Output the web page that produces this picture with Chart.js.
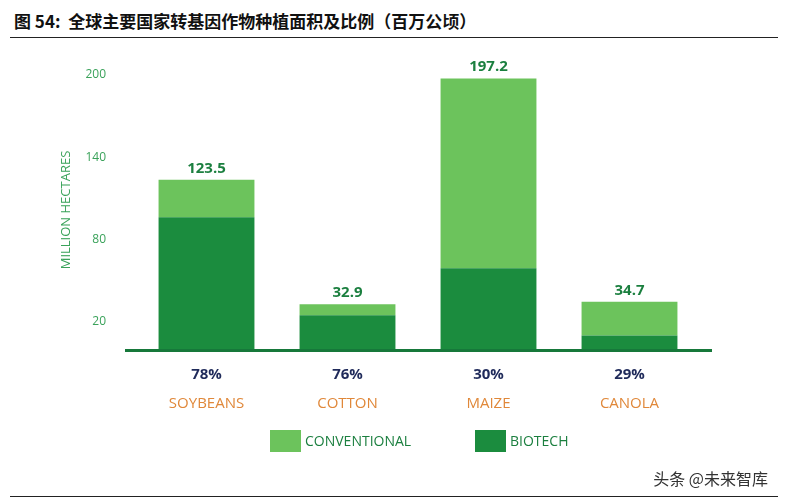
<!DOCTYPE html>
<html>
<head>
<meta charset="utf-8">
<script src="https://cdn.jsdelivr.net/npm/chart.js@4"></script>
<style>
  body { margin: 0; background: #fff; }
  #wrap { position: relative; width: 788px; height: 504px; overflow: hidden; }
  #title { position: absolute; left: 14px; top: 8px; font: bold 17px "Noto Sans CJK SC", sans-serif; color: #111; }
  #topline { position: absolute; left: 10px; right: 10px; top: 37px; border-top: 1.5px solid #222; }
  #botline { position: absolute; left: 10px; right: 10px; top: 496px; border-top: 1.5px solid #222; }
  #mark { position: absolute; right: 20px; top: 466px; font: 16px "Noto Sans CJK SC", sans-serif; color: #333; }
  canvas { position: absolute; left: 0; top: 0; }
</style>
</head>
<body>
<div id="wrap">
  <div id="title">图 54:&nbsp; 全球主要国家转基因作物种植面积及比例（百万公顷）</div>
  <div id="topline"></div>
  <canvas id="c" width="788" height="504"></canvas>
  <div id="botline"></div>
  <div id="mark">头条 @未来智库</div>
</div>
<script>
const categories = ["SOYBEANS", "COTTON", "MAIZE", "CANOLA"];
const totals = [123.5, 32.9, 197.2, 34.7];
const biotechShare = ["78%", "76%", "30%", "29%"];
const biotech = [96.3, 25.0, 59.2, 10.1];
const conventional = [27.2, 7.9, 138.0, 24.6];
const yTicks = [20, 80, 140, 200];

const LIGHT = "#6cc35c";
const DARK = "#1b8c3e";
const FONT = "Open Sans";

const extras = {
  id: "extras",
  afterDraw(chart) {
    const ctx = chart.ctx;
    const x = chart.scales.x, y = chart.scales.y;
    const base = y.getPixelForValue(0);
    ctx.save();
    // baseline
    ctx.strokeStyle = "#16783a";
    ctx.lineWidth = 3;
    ctx.beginPath();
    ctx.moveTo(125, base + 1);
    ctx.lineTo(712, base + 1);
    ctx.stroke();
    ctx.textAlign = "center";
    categories.forEach((c, i) => {
      const cx = x.getPixelForValue(i);
      ctx.fillStyle = "#1b7f3f";
      ctx.font = "bold 15px " + FONT;
      ctx.textBaseline = "bottom";
      ctx.fillText(totals[i].toFixed(1), cx, y.getPixelForValue(totals[i]) - 4);
      ctx.textBaseline = "middle";
      ctx.fillStyle = "#1f2a5a";
      ctx.fillText(biotechShare[i], cx, 375);
      ctx.fillStyle = "#e0883a";
      ctx.font = "15px " + FONT;
      ctx.fillText(c, cx, 404);
    });
    // y axis title
    ctx.translate(66, 210);
    ctx.rotate(-Math.PI / 2);
    ctx.fillStyle = "#3aa25a";
    ctx.font = "13px " + FONT;
    ctx.fillText("MILLION HECTARES", 0, 0);
    ctx.restore();
    // legend
    ctx.save();
    ctx.font = "14px " + FONT;
    ctx.textBaseline = "middle";
    ctx.textAlign = "left";
    ctx.fillStyle = LIGHT;
    ctx.fillRect(270, 430, 31, 22);
    ctx.fillStyle = DARK;
    ctx.fillRect(475, 430, 31, 22);
    ctx.fillStyle = "#1b7f3f";
    ctx.fillText("CONVENTIONAL", 305, 442);
    ctx.fillText("BIOTECH", 510, 442);
    ctx.restore();
  }
};

new Chart(document.getElementById("c"), {
  type: "bar",
  data: {
    labels: categories,
    datasets: [
      { label: "BIOTECH", data: biotech, backgroundColor: DARK },
      { label: "CONVENTIONAL", data: conventional, backgroundColor: LIGHT }
    ]
  },
  options: {
    responsive: false,
    animation: false,
    layout: { padding: { top: 61, right: 88, bottom: 154.5, left: 0 } },
    plugins: { legend: { display: false }, tooltip: { enabled: false } },
    datasets: { bar: { categoryPercentage: 0.68, barPercentage: 1 } },
    scales: {
      x: { stacked: true, display: false },
      y: {
        stacked: true, min: 0, max: 210,
        grid: { display: false }, border: { display: false },
        afterBuildTicks: s => { s.ticks = yTicks.map(v => ({ value: v })); },
        afterFit: s => { s.width = 136; },
        ticks: { color: "#3aa25a", padding: 22, font: { family: FONT, size: 12 } }
      }
    }
  },
  plugins: [extras]
});
</script>
</body>
</html>
